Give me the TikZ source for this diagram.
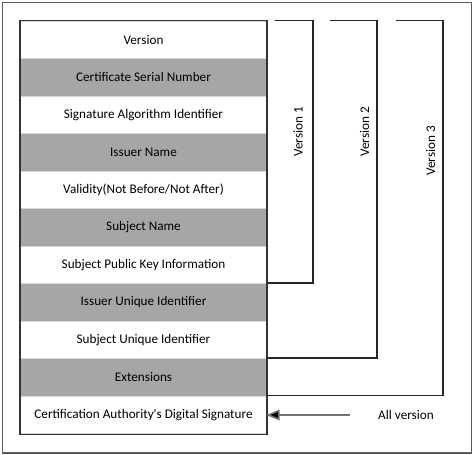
\documentclass[tikz,border=0pt]{standalone}
\usepackage{fontspec}
\setmainfont{Carlito}
\newfontfamily\calfont{Carlito}
\usetikzlibrary{arrows.meta}
\definecolor{rowgray}{RGB}{166,166,166}
\definecolor{sepgray}{RGB}{215,215,215}
\definecolor{framegray}{RGB}{90,90,90}
\begin{document}
\begin{tikzpicture}[x=0.75pt,y=-0.75pt,
  txt/.style={font=\calfont\fontsize{9.9pt}{11pt}\selectfont},
  rowbox/.style={txt, draw=sepgray, line width=0.75pt, minimum width=184.5pt, minimum height=28.2pt, inner sep=0pt, anchor=north west},
  grayrow/.style={rowbox, fill=rowgray},
  whiterow/.style={rowbox, fill=white},
  bracket/.style={draw=black!85, line width=0.8pt},
  vlabel/.style={txt, rotate=90}]
\useasboundingbox (0,0) rectangle (473,454);
\node[draw=framegray, line width=0.9pt, minimum width=352pt, minimum height=338.2pt, anchor=north west, inner sep=0pt] (frame) at (1.5,1.5) {};
\node[whiterow] (r1) at (20,20.5) {Version};
\node[grayrow] (r2) at (20,58) {Certificate Serial Number};
\node[whiterow] (r3) at (20,95.5) {Signature Algorithm Identifier};
\node[grayrow] (r4) at (20,133) {Issuer Name};
\node[whiterow] (r5) at (20,170.5) {Validity(Not Before/Not After)};
\node[grayrow] (r6) at (20,208) {Subject Name};
\node[whiterow] (r7) at (20,245.5) {Subject Public Key Information};
\node[grayrow] (r8) at (20,283) {Issuer Unique Identifier};
\node[whiterow] (r9) at (20,320.5) {Subject Unique Identifier};
\node[grayrow] (r10) at (20,358) {Extensions};
\node[whiterow] (r11) at (20,395.5) {Certification Authority's Digital Signature};
\draw[draw=black!80, line width=0.8pt] (r1.north west) rectangle (r11.south east);
% brackets
\coordinate (b1s) at (275,20.5);
\coordinate (b1c) at (313,20.5);
\coordinate (b1d) at (313,283);
\draw[bracket] (b1s) -- (b1c) -- (b1d) -- (r8.north east);
\coordinate (b2s) at (330,20.5);
\coordinate (b2c) at (377,20.5);
\coordinate (b2d) at (377,358);
\draw[bracket] (b2s) -- (b2c) -- (b2d) -- (r10.north east);
\coordinate (b3s) at (396,20.5);
\coordinate (b3c) at (443,20.5);
\coordinate (b3d) at (443,395.5);
\draw[bracket] (b3s) -- (b3c) -- (b3d) -- (r11.north east);
\node[vlabel] (v1) at (298,132) {Version 1};
\node[vlabel] (v2) at (364.5,132) {Version 2};
\node[vlabel] (v3) at (430.5,151) {Version 3};
\node[txt] (all) at (406,415) {All version};
\coordinate (arrs) at (349.5,415);
\draw[draw=black!55, line width=1.2pt, -{Triangle[length=10pt,width=8pt,fill=black]}, shorten >=-0.5pt] (arrs) -- (r11.east |- arrs);
\end{tikzpicture}
\end{document}
